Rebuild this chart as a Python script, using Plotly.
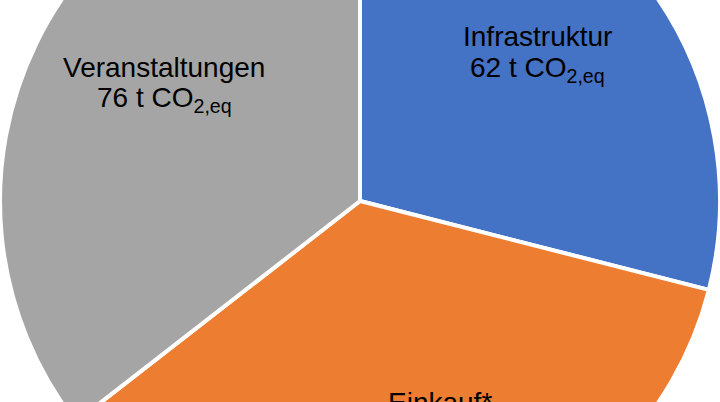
import plotly.graph_objects as go

categories = ["Infrastruktur", "Einkauf*", "Veranstaltungen"]
values = [62, 76, 76]
unit = "t CO<sub>2,eq</sub>"
colors = ["#4472C4", "#ED7D31", "#A5A5A5"]

# label anchor (centre x, first-line baseline y) in the visible window, px
label_pos = {"Infrastruktur": (537, 47), "Einkauf*": (440, 412), "Veranstaltungen": (164, 77)}
LINE_GAP = 32
FONT_SIZE = 28
BASE_OFF = 10  # middle of text box -> baseline

SHIFT = 159  # pie is larger than the window; the page is shifted up
W, H = 720, 720

fig = go.Figure(go.Pie(
    labels=categories,
    values=values,
    sort=False,
    direction="clockwise",
    rotation=0,
    marker=dict(colors=colors, line=dict(color="white", width=4)),
    textinfo="none",
    hoverinfo="label+value",
    showlegend=False,
    domain=dict(x=[0, 1], y=[0, 1]),
))

font = dict(family="Liberation Sans, Arial, sans-serif", size=FONT_SIZE, color="black")
for cat, val in zip(categories, values):
    px, base = label_pos[cat]
    for i, line in enumerate([cat, f"{val} {unit}"]):
        cy = base + i * LINE_GAP - BASE_OFF
        fig.add_annotation(
            text=line,
            x=px / W, y=1 - (cy + SHIFT) / H,
            xref="paper", yref="paper",
            xanchor="center", yanchor="middle",
            showarrow=False, align="center",
            font=font,
        )

fig.update_layout(
    width=W, height=H,
    margin=dict(l=0, r=0, t=0, b=0),
    paper_bgcolor="white",
    plot_bgcolor="white",
)

post = (
    "document.body.style.margin='0';"
    "document.body.style.overflow='hidden';"
    "var gd=document.getElementById('{plot_id}');"
    "gd.style.position='relative';"
    f"gd.style.top='-{SHIFT}px';"
)
fig.write_html("out.html", post_script=post)
